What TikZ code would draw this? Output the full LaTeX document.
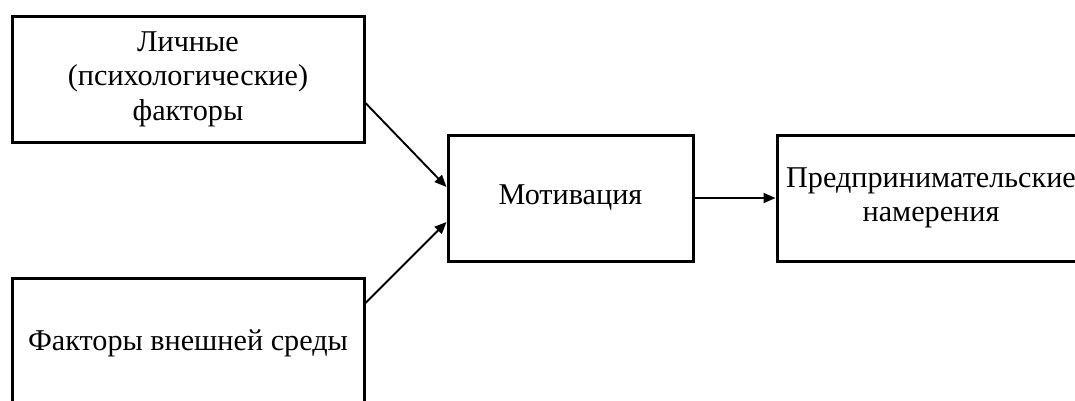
\documentclass[tikz,border=0pt]{standalone}
\usepackage{fontspec}
\setmainfont{Liberation Serif}
\usetikzlibrary{arrows.meta}
\begin{document}
\begin{tikzpicture}[x=1pt,y=-1pt,
  box/.style={draw=black,line width=3pt,rectangle,inner sep=0pt,align=center,
    font=\fontsize{30.2}{34.5}\selectfont},
  arr/.style={line width=1.9pt,-{Triangle[length=12pt,width=10pt]}}]
\useasboundingbox (0,0) rectangle (1075,400);
\node[box,minimum width=352pt,minimum height=126pt] (b1) at (188,79) {Личные\\(психологические)\\факторы};
\node[box,minimum width=352pt,minimum height=130pt] (b2) at (188,343) {Факторы внешней среды};
\node[box,minimum width=245pt,minimum height=126pt] (b3) at (570.5,198) {Мотивация};
\node[box,minimum width=308pt,minimum height=126pt] (b4) at (931,198) {Предпринимательские\\намерения};
\draw[arr] ([yshift=-24pt]b1.east) -- ([yshift=11pt]b3.west);
\draw[arr] ([yshift=40pt]b2.east) -- ([yshift=-24pt]b3.west);
\draw[arr] (b3.east) -- (b4.west);
\end{tikzpicture}
\end{document}
